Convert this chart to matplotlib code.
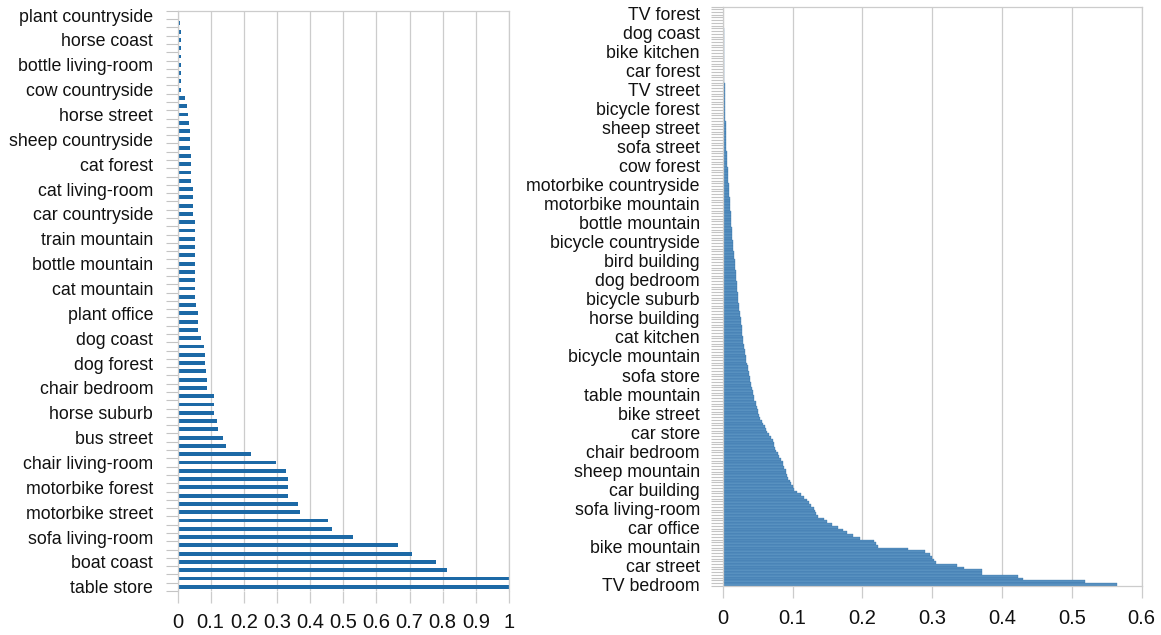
import numpy as np
import matplotlib.pyplot as plt

# left panel: 70 bars, label on every 3rd bar (top to bottom)
left_labels = ['plant countryside', 'horse coast', 'bottle living-room', 'cow countryside',
               'horse street', 'sheep countryside', 'cat forest', 'cat living-room',
               'car countryside', 'train mountain', 'bottle mountain', 'cat mountain',
               'plant office', 'dog coast', 'dog forest', 'chair bedroom', 'horse suburb',
               'bus street', 'chair living-room', 'motorbike forest', 'motorbike street',
               'sofa living-room', 'boat coast', 'table store']
left_values = [0.005, 0.008, 0.009, 0.009, 0.01, 0.01, 0.01, 0.01, 0.01,
               0.012, 0.022, 0.03, 0.032, 0.036, 0.037, 0.038, 0.038, 0.04, 0.04,
               0.04, 0.042, 0.047, 0.047, 0.047, 0.048,
               0.053, 0.053, 0.053, 0.053, 0.053, 0.053, 0.053, 0.053, 0.053, 0.053,
               0.055, 0.062, 0.062, 0.062, 0.07, 0.08, 0.083, 0.083, 0.087, 0.09,
               0.09, 0.11, 0.11, 0.11, 0.119, 0.123, 0.136, 0.146, 0.221,
               0.296, 0.327, 0.334, 0.334, 0.334, 0.364, 0.37, 0.454, 0.467, 0.528,
               0.666, 0.707, 0.779, 0.812, 1.0, 1.0]
left_xlabels = ['0', '0.1', '0.2', '0.3', '0.4', '0.5', '0.6', '0.7', '0.8', '0.9', '1']

# right panel: 213 bars, label on every 7th bar (top to bottom)
right_labels = ['TV forest', 'dog coast', 'bike kitchen', 'car forest', 'TV street',
                'bicycle forest', 'sheep street', 'sofa street', 'cow forest',
                'motorbike countryside', 'motorbike mountain', 'bottle mountain',
                'bicycle countryside', 'bird building', 'dog bedroom', 'bicycle suburb',
                'horse building', 'cat kitchen', 'bicycle mountain', 'sofa store',
                'table mountain', 'bike street', 'car store', 'chair bedroom',
                'sheep mountain', 'car building', 'sofa living-room', 'car office',
                'bike mountain', 'car street', 'TV bedroom']
right_values = [0.0005, 0.0006,
                0.0008, 0.0009, 0.001, 0.001, 0.001, 0.0011, 0.0012,
                0.0012, 0.0013, 0.0014, 0.0015, 0.0015, 0.0016, 0.0017,
                0.0018, 0.0018, 0.0019, 0.002, 0.002, 0.0021, 0.0022,
                0.0022, 0.0023, 0.0024, 0.0025, 0.0025, 0.0026, 0.0027,
                0.0028, 0.0029, 0.003, 0.003, 0.0031, 0.0032, 0.0033,
                0.0034, 0.0035, 0.0036, 0.0038, 0.0039, 0.004, 0.0041,
                0.0042, 0.0043, 0.0044, 0.0045, 0.0046, 0.0047, 0.0048,
                0.005, 0.0052, 0.0055, 0.0058, 0.006, 0.0063, 0.0066,
                0.0068, 0.007, 0.0072, 0.0075, 0.0078, 0.008, 0.0082,
                0.0085, 0.0088, 0.009, 0.0093, 0.0096, 0.01, 0.0103,
                0.0106, 0.0108, 0.011, 0.0112, 0.0115, 0.0118, 0.012,
                0.0122, 0.0125, 0.0128, 0.013, 0.0133, 0.0136, 0.0139,
                0.0142, 0.0145, 0.0148, 0.015, 0.0155, 0.016, 0.0165,
                0.017, 0.0173, 0.0176, 0.018, 0.0185, 0.019, 0.0193,
                0.0196, 0.02, 0.0203, 0.0206, 0.021, 0.0213, 0.0216,
                0.022, 0.0225, 0.023, 0.0235, 0.024, 0.0245, 0.025,
                0.026, 0.0263, 0.0266, 0.027, 0.0273, 0.0277, 0.028,
                0.0285, 0.029, 0.0295, 0.03, 0.031, 0.0315, 0.032,
                0.0328, 0.0335, 0.034, 0.035, 0.0355, 0.036, 0.037,
                0.038, 0.039, 0.0395, 0.04, 0.041, 0.042, 0.043,
                0.044, 0.045, 0.0455, 0.047, 0.048, 0.049, 0.05,
                0.051, 0.052, 0.054, 0.056, 0.058, 0.06, 0.062,
                0.064, 0.066, 0.069, 0.072, 0.073, 0.074, 0.075,
                0.076, 0.079, 0.081, 0.083, 0.086, 0.087, 0.088,
                0.09, 0.091, 0.092, 0.094, 0.096, 0.098, 0.1,
                0.102, 0.106, 0.112, 0.116, 0.12, 0.123, 0.126,
                0.13, 0.132, 0.133, 0.136, 0.145, 0.15, 0.157,
                0.165, 0.172, 0.178, 0.186, 0.196, 0.216, 0.22,
                0.222, 0.266, 0.29, 0.297, 0.3, 0.303, 0.305,
                0.335, 0.346, 0.371, 0.371, 0.423, 0.43, 0.519,
                0.565]
right_xlabels = ['0', '0.1', '0.2', '0.3', '0.4', '0.5', '0.6']

plt.rcParams['font.family'] = ['Liberation Sans', 'DejaVu Sans']
grid_c = '#cccccc'

fig = plt.figure(figsize=(11.61, 6.35), dpi=100)


def setup(ax, n, label_pos, labels, xmax, xlabels, ypad, xpad, ylsize, xlsize):
    ax.set_ylim(n - 0.5, -0.5)
    ax.set_xlim(0, xmax)
    ax.set_xticks(np.linspace(0, xmax, len(xlabels)))
    ax.set_xticklabels(xlabels)
    ax.set_yticks(label_pos)
    ax.set_yticklabels(labels)
    ax.set_yticks(np.arange(-0.5, n, 1), minor=True)
    ax.tick_params(axis='y', which='major', length=0, pad=ypad, labelsize=ylsize, labelcolor='#111111')
    ax.tick_params(axis='y', which='minor', length=9, color='#c4c4c4', width=0.8)
    ax.tick_params(axis='x', length=8.5, color=grid_c, width=0.9, pad=xpad, labelsize=xlsize, labelcolor='#111111')
    ax.grid(axis='x', color=grid_c, lw=0.9)
    ax.set_axisbelow(True)
    for s in ax.spines.values():
        s.set_color(grid_c)
        s.set_linewidth(0.9)


ax1 = fig.add_axes([0.1529, 0.0694, 0.2855, 0.9134])
n1 = len(left_values)
ax1.barh(np.arange(n1), left_values, height=0.45, color='#1c69a6')
setup(ax1, n1, list(range(0, n1, 3)), left_labels, 1.0, left_xlabels, 17.5, 7.5, 12.8, 14.5)
ax1.spines['bottom'].set_visible(False)

ax2 = fig.add_axes([0.6225, 0.0776, 0.3609, 0.912])
n2 = len(right_values)
ax2.barh(np.arange(n2), right_values, height=1.0, color='#5891c0',
         edgecolor='#2a69a3', linewidth=0.22)
setup(ax2, n2, list(range(2, n2, 7)), right_labels, 0.6, right_xlabels, 16.5, 8, 12.8, 14.5)

fig.savefig('out.png', dpi=100)
